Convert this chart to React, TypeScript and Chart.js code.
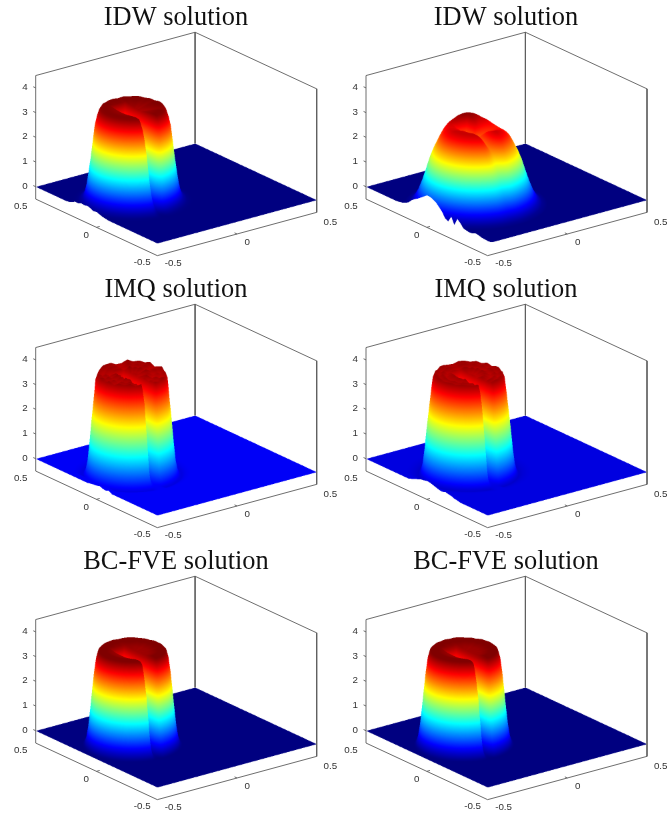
import React, { useEffect, useRef } from "react";
import { Chart, registerables } from "chart.js";
Chart.register(...registerables);

// ---- labels and ticks
const titles = ["IDW solution", "IDW solution", "IMQ solution", "IMQ solution", "BC-FVE solution", "BC-FVE solution"];
const zTicks = [0, 1, 2, 3, 4];
const planeTicks = [-0.5, 0, 0.5];

// ---- colour limits of each panel
const colourMin = [0, 0, -0.55, -0.43, 0, 0];
const colourMax = [3.76, 3.42, 4.15, 4.1, 3.82, 3.82];

// ---- position of each cylinder
const centreX = [-0.229, -0.215, -0.235, -0.2, -0.232, -0.225];
const centreY = [0.058, -0.027, 0.06, 0.05, 0.058, 0.056];

// ---- slot of each cylinder (offset from centre, half width, tip offset)
const slotOffset = [-0.02, -0.02, -0.02, -0.02, -0.02, -0.02];
const slotHalfWidth = [0.03, 0.035, 0.03, 0.03, 0.03, 0.03];
const slotTip = [0.08, 0.09, 0.08, 0.08, 0.08, 0.08];
const slotDepthAt = [-0.02, -0.01, 0, 0.005, 0.01, 0.015, 0.02, 0.03, 0.05];
const slotIDW = [1, 0.92, 0.72, 0.55, 0.42, 0.3, 0.22, 0.12, 0.08];
const slotIDW2 = [1, 0.98, 0.95, 0.93, 0.91, 0.89, 0.87, 0.84, 0.82];
const slotSharp = [1, 1, 0.85, 0.4, 0.2, 0.1, 0.06, 0.03, 0.02];
const slotMid = [1, 0.98, 0.8, 0.45, 0.25, 0.14, 0.08, 0.04, 0.02];

// ---- radial height read-offs
const radii = [0, 0.04, 0.08, 0.11, 0.13, 0.145, 0.16, 0.17, 0.18, 0.19, 0.2, 0.21, 0.22, 0.23, 0.24, 0.25, 0.27, 0.29, 0.31, 0.33, 0.36];
const heightsIDW1 = [3.62, 3.62, 3.68, 3.72, 3.74, 3.74, 3.72, 3.6, 3.35, 3.0, 2.35, 1.7, 1.15, 0.65, 0.32, 0.15, 0.04, 0.01, 0, 0, 0];
const heightsIDW2 = [3.0, 3.02, 3.12, 3.18, 3.18, 3.12, 3.02, 2.92, 2.78, 2.62, 2.45, 2.3, 2.1, 1.9, 1.65, 1.38, 0.9, 0.5, 0.22, 0.07, 0];
const heightsIMQ1 = [3.95, 3.88, 4.0, 3.9, 3.98, 3.92, 3.98, 4.0, 3.78, 2.9, 2.1, 1.2, 0.45, 0.08, -0.08, -0.1, -0.03, 0, 0, 0, 0];
const heightsIMQ2 = [3.9, 3.82, 3.95, 3.85, 3.95, 3.88, 3.95, 3.95, 3.75, 3.1, 2.4, 1.7, 0.9, 0.3, 0, -0.1, -0.05, -0.02, 0, 0, 0];
const heightsBC1 = [3.7, 3.7, 3.72, 3.78, 3.82, 3.84, 3.85, 3.78, 3.5, 2.95, 2.2, 1.4, 0.7, 0.25, 0.05, 0, 0, 0, 0, 0, 0];
const heightsBC2 = [3.7, 3.7, 3.72, 3.78, 3.82, 3.84, 3.85, 3.78, 3.5, 2.95, 2.2, 1.42, 0.74, 0.28, 0.06, 0, 0, 0, 0, 0, 0];

// ---- rim height deviation, one value per 10 degrees of direction
const rimIDW1 = [0.005, -0.005, 0.005, 0, 0.01, 0.01, 0.005, 0.01, 0, 0.005, 0.005, 0, 0.005, 0, 0, 0, 0, 0, 0, 0, 0, 0, 0, 0, 0, 0, 0, 0, 0, 0, 0, 0, -0.01, -0.01, 0, 0.005];
const rimIDW2 = [-0.08, -0.07, -0.05, -0.02, 0, 0.03, 0.05, 0.06, 0.06, 0.05, 0.03, 0.02, 0, -0.02, -0.03, -0.02, -0.02, -0.01, 0, 0, 0, 0, 0, 0, 0, 0, 0, 0, 0, -0.01, -0.02, -0.03, -0.05, -0.06, -0.07, -0.08];
const rimIMQ1 = [0, -0.02, 0.015, 0, 0.012, 0, 0.02, -0.012, -0.015, 0.01, 0.012, 0.015, 0, -0.008, -0.012, 0.01, -0.01, 0.015, -0.01, 0.01, -0.015, 0.01, 0, 0.015, -0.01, 0.01, -0.01, 0.015, 0, -0.015, 0.01, -0.01, -0.02, 0, -0.01, 0.015];
const rimIMQ2 = [0.005, -0.012, 0.01, -0.005, 0.01, 0, 0.012, 0.012, -0.008, -0.005, 0.005, 0.01, -0.008, 0.005, -0.005, 0.005, 0, 0.005, -0.005, 0, 0.005, -0.005, 0.005, 0, -0.005, 0.005, 0, -0.005, 0, 0.005, -0.005, 0, -0.012, 0.005, -0.008, 0.008];
const rimBC1 = [0, 0.003, -0.003, 0.003, 0, 0.004, 0.006, 0.003, -0.003, 0.003, 0, 0.003, 0, 0, 0, 0, 0, 0, 0, 0, 0, 0, 0, 0, 0, 0, 0, 0, 0, 0, 0, 0, 0, 0.003, -0.003, 0.003];
const rimBC2 = [0.003, 0, 0.004, -0.003, 0.003, 0, 0.005, 0.005, 0, 0.004, -0.002, 0.003, 0, 0, 0, 0, 0, 0, 0, 0, 0, 0, 0, 0, 0, 0, 0, 0, 0, 0, 0, 0, 0.003, -0.002, 0.003, 0];

// ---- height of the near boundary, y = -0.5 to 0.3 in 0.025 steps
const edgeIDW1 = [0, 0, 0, 0, 0, 0, 0, 0, 0, 0, 0, 0, 0, 0, 0, 0, 0, 0.02, 0.04, 0.08, 0.13, 0.1, 0.16, 0.2, 0.17, 0.19, 0.13, 0.14, 0.08, 0.02, 0, 0, 0];
const edgeIDW2 = [0.1, 0.11, 0.12, 0.16, 0.18, 0.12, 0.1, 0.12, 0.15, 0.3, 0.42, 0.12, 0.4, 0.15, 0.2, 0.42, 0.55, 0.68, 0.75, 0.8, 0.8, 0.7, 0.6, 0.5, 0.42, 0.32, 0.18, 0.1, 0.05, 0.02, 0, 0, 0];
const edgeIMQ1 = [0, 0, 0, 0, 0, 0, 0, 0, 0, 0, 0, 0, 0, 0, 0, 0, 0.08, 0.03, 0.05, 0.1, 0.06, 0.05, 0.03, 0, 0, 0, 0, 0, 0, 0, 0, 0, 0];
const edgeIMQ2 = [0, 0, 0, 0, 0, 0, 0, 0, 0, 0, 0.03, 0.05, 0.1, 0.12, 0.15, 0.1, 0.12, 0.16, 0.2, 0.24, 0.25, 0.22, 0.2, 0.15, 0.1, 0.05, 0, 0, 0, 0, 0, 0, 0];
const edgeBC1 = [0, 0, 0, 0, 0, 0, 0, 0, 0, 0, 0, 0, 0, 0, 0, 0, 0, 0, 0, 0, 0, 0, 0, 0, 0, 0, 0, 0, 0, 0, 0, 0, 0];
const edgeBC2 = [0, 0, 0, 0, 0, 0, 0, 0, 0, 0, 0, 0, 0, 0, 0, 0, 0, 0, 0, 0, 0, 0, 0, 0, 0, 0, 0, 0, 0, 0, 0, 0, 0];

const profiles = [heightsIDW1, heightsIDW2, heightsIMQ1, heightsIMQ2, heightsBC1, heightsBC2];
const rims = [rimIDW1, rimIDW2, rimIMQ1, rimIMQ2, rimBC1, rimBC2];
const edges = [edgeIDW1, edgeIDW2, edgeIMQ1, edgeIMQ2, edgeBC1, edgeBC2];
const slots = [slotIDW, slotIDW2, slotSharp, slotSharp, slotMid, slotMid];

// ---- view: projected coordinates of the unit box (value space of the chart scales)
const PANEL_W = 352;
const PANEL_H = 272;
const TITLE_SIZE = 26.4;
const TITLE_PAD = 2;
const TITLE_BLOCK = TITLE_SIZE * 1.2 + TITLE_PAD;
const view = { ox: 157.3, sx: 159.4, sy: -121.6, oy: 28.7, ux: 43.3, uy: 56.6, uz: 24.7 };
const Z_FLOOR = -0.5;
const Z_TOP = 4.5;

const projectV = (x: number, y: number, z: number) => ({
  x: view.ox + (x + 0.5) * view.sx + (y + 0.5) * view.sy,
  y: view.oy + (x + 0.5) * view.ux + (y + 0.5) * view.uy + z * view.uz,
});

function tableLookup(xs: number[], ys: number[], v: number) {
  if (v <= xs[0]) return ys[0];
  for (let i = 1; i < xs.length; i++) {
    if (v <= xs[i]) {
      const t = (v - xs[i - 1]) / (xs[i] - xs[i - 1]);
      return ys[i - 1] + t * (ys[i] - ys[i - 1]);
    }
  }
  return ys[ys.length - 1];
}

function jet(t: number): [number, number, number] {
  const c = (v: number) => Math.max(0, Math.min(1, v));
  const r = c(Math.min(4 * t - 1.5, -4 * t + 4.5));
  const g = c(Math.min(4 * t - 0.5, -4 * t + 3.5));
  const b = c(Math.min(4 * t + 0.5, -4 * t + 2.5));
  return [r * 255, g * 255, b * 255];
}

function heightField(p: number) {
  const cx = centreX[p];
  const cy = centreY[p];
  const rMax = radii[radii.length - 1];
  const N = 800;
  const profLut = new Float32Array(N + 1);
  for (let i = 0; i <= N; i++) profLut[i] = tableLookup(radii, profiles[p], (i / N) * rMax);
  const slotLut = new Float32Array(401);
  for (let i = 0; i <= 400; i++) slotLut[i] = tableLookup(slotDepthAt, slots[p], -0.05 + (i / 400) * 0.15);
  const rim = rims[p];
  const edge = edges[p];
  const sx = cx + slotOffset[p];
  const w = slotHalfWidth[p];
  const tip = cy + slotTip[p];
  return (x: number, y: number) => {
    const dx = x - cx;
    const dy = y - cy;
    const r = Math.sqrt(dx * dx + dy * dy);
    let h = 0;
    if (r < rMax) {
      const fi = (r / rMax) * N;
      h = profLut[Math.floor(fi)];
      const ang = ((Math.atan2(dy, dx) * 180) / Math.PI + 360) % 360;
      const ai = ang / 10;
      const a0 = Math.floor(ai) % 36;
      const a1 = (a0 + 1) % 36;
      const noise = rim[a0] + (ai - Math.floor(ai)) * (rim[a1] - rim[a0]);
      h *= 1 + noise;
      const s = -Math.max(Math.abs(x - sx) - w, y - tip);
      const si = Math.max(0, Math.min(400, Math.round(((s + 0.05) / 0.15) * 400)));
      h *= slotLut[si];
    }
    const fx = x + 0.5;
    if (fx < 0.04 && y < 0.3) {
      const ei = (y + 0.5) / 0.025;
      const e0 = Math.floor(ei);
      const val = edge[e0] + (ei - e0) * (edge[e0 + 1] - edge[e0]);
      const f = 1 - fx / 0.04;
      const lifted = val * f * f;
      if (lifted > h) h = lifted;
    }
    return h;
  };
}

// Draws the height field with hidden-surface removal through the chart's scales.
function surfacePlugin(p: number) {
  return {
    id: "surface" + p,
    beforeDatasetsDraw(chart: any) {
      const xs = chart.scales.x;
      const ys = chart.scales.y;
      const P = (x: number, y: number, z: number) => {
        const v = projectV(x, y, z);
        return [xs.getPixelForValue(v.x), ys.getPixelForValue(v.y)];
      };
      const SS = 3;
      const W = chart.width * SS;
      const H = chart.height * SS;
      const o = P(-0.5, -0.5, 0);
      const ax = P(0.5, -0.5, 0);
      const by = P(-0.5, 0.5, 0);
      const cz = P(-0.5, -0.5, 1);
      const X0 = o[0] * SS;
      const Y0 = o[1] * SS;
      const Sx = (ax[0] - o[0]) * SS;
      const Ux = (ax[1] - o[1]) * SS;
      const Sy = (by[0] - o[0]) * SS;
      const Uy = (by[1] - o[1]) * SS;
      const Uz = (cz[1] - o[1]) * SS;
      const hf = heightField(p);
      const lut = new Uint8ClampedArray(1025 * 3);
      for (let i = 0; i <= 1024; i++) {
        const c = jet(i / 1024);
        lut[i * 3] = c[0];
        lut[i * 3 + 1] = c[1];
        lut[i * 3 + 2] = c[2];
      }
      const zLo = colourMin[p];
      const zSpan = colourMax[p] - zLo;
      const off = document.createElement("canvas");
      off.width = W;
      off.height = H;
      const octx = off.getContext("2d")!;
      const img = octx.createImageData(W, H);
      const d = img.data;
      const da = 0.0006;
      const db = (da * Sx) / -Sy;
      const colStart = Math.ceil(Math.min(X0 + Sy, X0));
      const colEnd = Math.floor(X0 + Sx);
      for (let X = colStart; X <= colEnd; X++) {
        let a = 0;
        let b = 0;
        if (X >= X0) a = (X - X0) / Sx;
        else b = (X - X0) / Sy;
        let ymin = Infinity;
        let prevZ = 0;
        while (a <= 1 && b <= 1) {
          const z = hf(a - 0.5, b - 0.5);
          const Y = Y0 + a * Ux + b * Uy + z * Uz;
          if (ymin === Infinity) {
            ymin = Math.ceil(Y);
            prevZ = z;
          } else if (Y < ymin) {
            const top = Math.max(0, Math.ceil(Y));
            const span = Math.max(1, ymin - top);
            for (let py = Math.min(H, ymin) - 1; py >= top; py--) {
              const t = (ymin - py) / span;
              const zz = prevZ + t * (z - prevZ);
              const q = (zz - zLo) / zSpan;
              const li = Math.max(0, Math.min(1024, Math.round(q * 1024))) * 3;
              const k = (py * W + X) * 4;
              d[k] = lut[li];
              d[k + 1] = lut[li + 1];
              d[k + 2] = lut[li + 2];
              d[k + 3] = 255;
            }
            ymin = top;
          }
          prevZ = z;
          a += da;
          b += db;
        }
      }
      octx.putImageData(img, 0, 0);
      const ctx = chart.ctx;
      ctx.save();
      ctx.imageSmoothingEnabled = true;
      ctx.imageSmoothingQuality = "high";
      ctx.drawImage(off, 0, 0, chart.width, chart.height);
      ctx.restore();
    },
    afterDatasetsDraw(chart: any) {
      const xs = chart.scales.x;
      const ys = chart.scales.y;
      const ctx = chart.ctx;
      ctx.save();
      ctx.font = '9.8px "Liberation Sans"';
      ctx.fillStyle = "#333333";
      ctx.textAlign = "center";
      ctx.textBaseline = "middle";
      const put = (v: { x: number; y: number }, ox: number, oy: number, s: string) =>
        ctx.fillText(s, xs.getPixelForValue(v.x) + ox, ys.getPixelForValue(v.y) + oy);
      zTicks.forEach((t) => put(projectV(-0.5, 0.5, t), -10.7, -0.6, String(t)));
      const yOff = [[-15, 7], [-10.2, 7.5], [-15, 7.7]];
      const xOff = [[16, 8], [10.3, 8.3], [13.7, 10]];
      planeTicks.forEach((t, i) => {
        put(projectV(-0.5, t, Z_FLOOR), yOff[i][0], yOff[i][1], String(t));
        put(projectV(t, -0.5, Z_FLOOR), xOff[i][0], xOff[i][1], String(t));
      });
      ctx.restore();
    },
  };
}

function boxLines() {
  const gap = { x: NaN, y: NaN };
  const pts: { x: number; y: number }[] = [];
  const seg = (...list: number[][]) => {
    list.forEach((q) => pts.push(projectV(q[0], q[1], q[2])));
    pts.push(gap);
  };
  seg([-0.5, 0.5, Z_FLOOR], [-0.5, 0.5, Z_TOP], [0.5, 0.5, Z_TOP], [0.5, -0.5, Z_TOP], [0.5, -0.5, Z_FLOOR], [-0.5, -0.5, Z_FLOOR], [-0.5, 0.5, Z_FLOOR]);
  seg([0.5, 0.5, Z_TOP], [0.5, 0.5, 0]);
  zTicks.forEach((t) => seg([-0.5, 0.5, t], [-0.5, 0.52, t]));
  seg([0, -0.5, Z_FLOOR], [0, -0.48, Z_FLOOR]);
  seg([-0.5, 0, Z_FLOOR], [-0.48, 0, Z_FLOOR]);
  return pts;
}

const cellLeft = [0, 330, 0, 330, 0, 330];
const cellTop = [0, 0, 272, 272, 544, 544];
const xShift = [0, 0.3, 0, 0.3, 0, 0.3];

export default function App() {
  const refs = useRef<(HTMLCanvasElement | null)[]>([]);
  useEffect(() => {
    const charts = titles.map((title, p) => {
      return new Chart(refs.current[p]!, {
        type: "scatter",
        data: {
          datasets: [
            {
              data: boxLines(),
              showLine: true,
              spanGaps: false,
              borderColor: "#5e5e5e",
              borderWidth: 0.9,
              pointRadius: 0,
              clip: false,
            } as any,
          ],
        },
        options: {
          animation: false,
          responsive: false,
          events: [],
          layout: { padding: 0 },
          plugins: {
            legend: { display: false },
            tooltip: { enabled: false },
            title: {
              display: true,
              text: title,
              color: "#111111",
              font: { family: '"Liberation Serif"', size: TITLE_SIZE, weight: "normal", lineHeight: 1.2 },
              padding: { top: TITLE_PAD, bottom: 0 },
            },
          },
          scales: {
            x: { type: "linear", display: false, min: -xShift[p], max: PANEL_W - xShift[p] },
            y: { type: "linear", display: false, min: 0, max: PANEL_H - TITLE_BLOCK },
          },
        } as any,
        plugins: [surfacePlugin(p)] as any,
      });
    });
    return () => charts.forEach((c) => c.destroy());
  }, []);
  return (
    <div style={{ position: "absolute", left: 0, top: 0, width: 667, height: 817, overflow: "hidden", background: "#fff" }}>
      {titles.map((t, p) => (
        <canvas
          key={p}
          ref={(el) => {
            refs.current[p] = el;
          }}
          width={PANEL_W}
          height={PANEL_H}
          style={{ position: "absolute", left: cellLeft[p], top: cellTop[p], width: PANEL_W, height: PANEL_H, filter: "blur(0.4px)" }}
        />
      ))}
    </div>
  );
}
